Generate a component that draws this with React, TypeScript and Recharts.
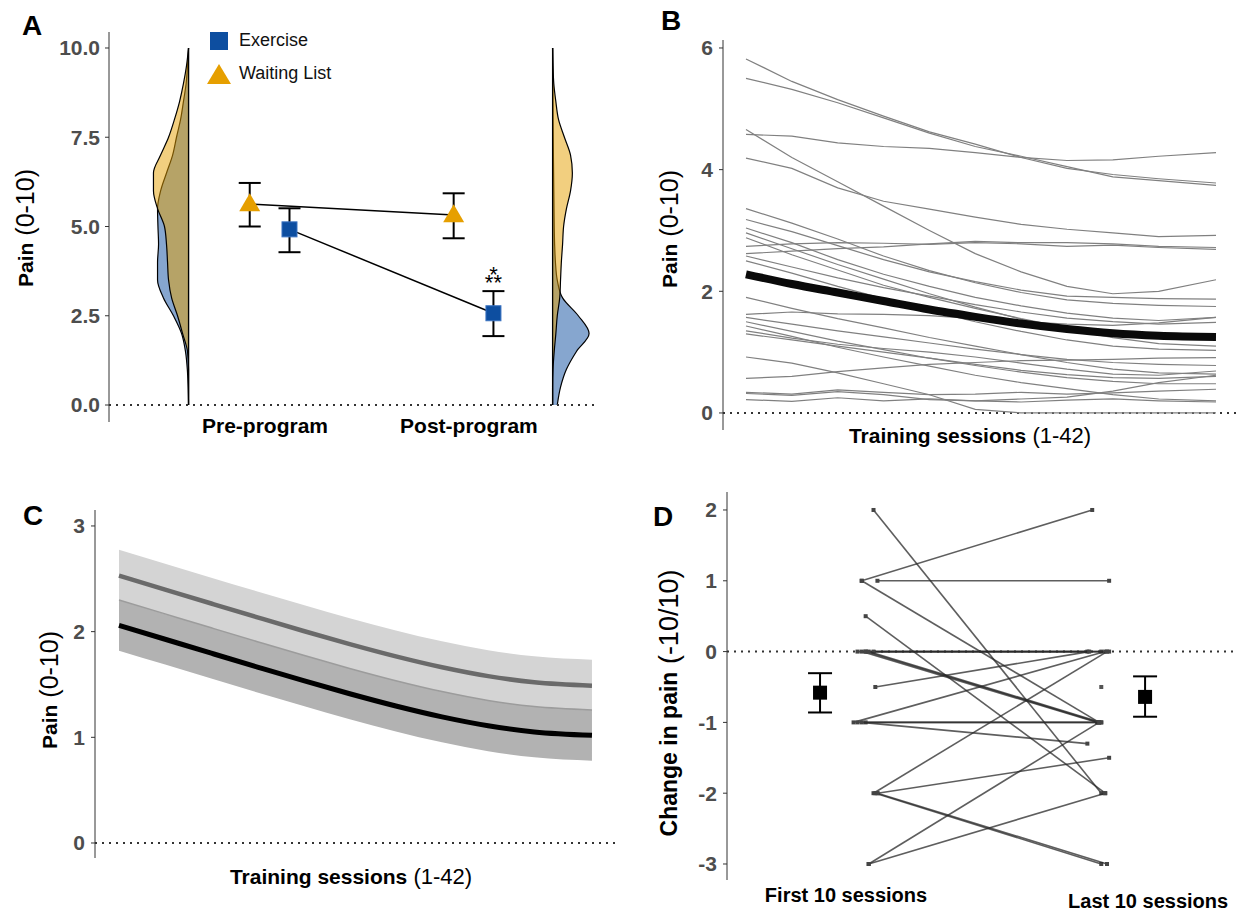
import React from 'react';
import {
  ComposedChart, Area, Line, Scatter, XAxis, YAxis, ReferenceLine, ReferenceDot, ErrorBar, Legend,
} from 'recharts';

const FONT = '"Liberation Sans", Arial, Helvetica, sans-serif';
const AXIS = '#333333';
const TICK_GREY = '#4d4d4d';
const BLUE = '#0d4ea0';
const ORANGE = '#e69f00';

// ---------- Panel A: group means (pre / post) ----------
const A_GROUPS = ['Pre-program', 'Post-program'];
const A_EX_MEAN = [4.92, 2.57];
const A_EX_ERR = [[0.64, 0.59], [0.64, 0.62]];
const A_WL_MEAN = [5.63, 5.32];
const A_WL_ERR = [[0.63, 0.59], [0.65, 0.61]];

// half-violin densities (width in x units) read at these pain levels
const VIOLIN_Y = [0, 0.5, 1, 1.5, 2, 2.5, 3, 3.5, 4, 4.5, 5, 5.5, 6, 6.5, 7, 7.5, 8, 8.5, 9, 9.5, 10];
const EX_PRE_DENS = [0, 0.002, 0.006, 0.015, 0.034, 0.074, 0.123, 0.152, 0.152, 0.147, 0.15, 0.152, 0.137, 0.108, 0.078, 0.059, 0.039, 0.025, 0.012, 0.005, 0];
const WL_PRE_DENS = [0, 0, 0, 0.005, 0.029, 0.054, 0.083, 0.098, 0.103, 0.108, 0.118, 0.152, 0.172, 0.172, 0.137, 0.098, 0.069, 0.044, 0.025, 0.01, 0];
const EX_POST_DENS = [0.023, 0.039, 0.068, 0.117, 0.179, 0.126, 0.049, 0.023, 0.014, 0.01, 0.008, 0.007, 0.006, 0.005, 0.004, 0.003, 0.002, 0.0015, 0.001, 0.0005, 0];
const WL_POST_DENS = [0, 0, 0.002, 0.008, 0.016, 0.023, 0.035, 0.039, 0.043, 0.049, 0.054, 0.068, 0.088, 0.097, 0.088, 0.058, 0.029, 0.016, 0.006, 0.002, 0];

// ---------- Panel B: individual trajectories + fitted mean ----------
const SESSIONS = [1, 5, 9, 13, 17, 21, 25, 29, 33, 37, 42];
const B_MEAN = [2.28, 2.12, 1.98, 1.84, 1.7, 1.58, 1.47, 1.38, 1.31, 1.27, 1.25];
const P01 = [5.82, 5.45, 5.15, 4.88, 4.62, 4.42, 4.2, 4.02, 3.92, 3.85, 3.78];
const P02 = [5.5, 5.32, 5.1, 4.85, 4.6, 4.38, 4.22, 4.05, 3.88, 3.82, 3.74];
const P03 = [4.58, 4.55, 4.44, 4.38, 4.35, 4.28, 4.2, 4.15, 4.16, 4.22, 4.28];
const P04 = [4.66, 4.2, 3.8, 3.4, 3.0, 2.62, 2.32, 2.08, 1.96, 2.0, 2.19];
const P05 = [4.19, 4.02, 3.7, 3.48, 3.35, 3.22, 3.1, 3.02, 2.96, 2.9, 2.92];
const P06 = [3.36, 3.12, 2.86, 2.58, 2.34, 2.14, 1.98, 1.86, 1.8, 1.77, 1.75];
const P07 = [3.18, 2.98, 2.75, 2.52, 2.32, 2.16, 2.02, 1.92, 1.9, 1.88, 1.87];
const P08 = [3.04, 2.8, 2.52, 2.28, 2.08, 1.9, 1.76, 1.64, 1.56, 1.52, 1.57];
const P09 = [2.96, 2.7, 2.44, 2.2, 1.96, 1.74, 1.54, 1.38, 1.24, 1.14, 1.1];
const P10 = [2.74, 2.78, 2.8, 2.79, 2.77, 2.8, 2.78, 2.74, 2.76, 2.72, 2.69];
const P11 = [2.62, 2.66, 2.7, 2.73, 2.78, 2.82, 2.8, 2.8, 2.78, 2.74, 2.72];
const P12 = [2.58, 2.4, 2.22, 2.06, 1.92, 1.78, 1.66, 1.56, 1.5, 1.46, 1.49];
const P13 = [2.5, 2.3, 2.08, 1.88, 1.68, 1.5, 1.34, 1.2, 1.1, 1.05, 1.03];
const P14 = [1.9, 1.72, 1.55, 1.4, 1.24, 1.1, 0.96, 0.83, 0.72, 0.66, 0.64];
const P15 = [1.62, 1.66, 1.63, 1.62, 1.6, 1.55, 1.5, 1.46, 1.44, 1.48, 1.57];
const P16 = [1.57, 1.46, 1.35, 1.25, 1.15, 1.05, 0.96, 0.88, 0.83, 0.8, 0.78];
const P17 = [1.5, 1.34, 1.18, 1.04, 0.9, 0.78, 0.67, 0.58, 0.52, 0.48, 0.48];
const P18 = [1.43, 1.26, 1.08, 0.92, 0.77, 0.62, 0.5, 0.4, 0.3, 0.23, 0.2];
const P19 = [1.35, 1.23, 1.13, 1.06, 1.0, 0.92, 0.82, 0.72, 0.64, 0.62, 0.69];
const P20 = [1.3, 1.2, 1.1, 1.0, 0.9, 0.8, 0.7, 0.63, 0.58, 0.57, 0.6];
const P21 = [0.92, 0.82, 0.66, 0.48, 0.3, 0.06, 0, 0, 0, 0, 0];
const P22 = [0.57, 0.6, 0.68, 0.74, 0.8, 0.83, 0.86, 0.87, 0.88, 0.9, 0.91];
const P23 = [0.34, 0.31, 0.38, 0.34, 0.3, 0.31, 0.34, 0.31, 0.33, 0.36, 0.39];
const P24 = [0.32, 0.29, 0.35, 0.3, 0.22, 0.2, 0.23, 0.26, 0.36, 0.5, 0.62];
const P25 = [0.22, 0.19, 0.25, 0.2, 0.23, 0.2, 0.18, 0.21, 0.23, 0.2, 0.18];
const P26 = [2.88, 2.6, 2.35, 2.1, 1.9, 1.72, 1.55, 1.4, 1.3, 1.25, 1.2];
const B_PATIENTS = [P01, P02, P03, P04, P05, P06, P07, P08, P09, P10, P11, P12, P13,
  P14, P15, P16, P17, P18, P19, P20, P21, P22, P23, P24, P25, P26];

// ---------- Panel C: two fitted curves with CI ----------
const C_GRAY_MEAN = [2.53, 2.398, 2.266, 2.135, 2.006, 1.882, 1.766, 1.663, 1.579, 1.521, 1.489];
const C_GRAY_HI = [2.775, 2.643, 2.511, 2.38, 2.251, 2.127, 2.011, 1.908, 1.824, 1.766, 1.734];
const C_GRAY_LO = [2.3, 2.168, 2.036, 1.905, 1.776, 1.652, 1.536, 1.433, 1.349, 1.291, 1.259];
const C_BLACK_MEAN = [2.06, 1.928, 1.796, 1.665, 1.536, 1.412, 1.296, 1.193, 1.109, 1.051, 1.019];
const C_BLACK_HI = [2.3, 2.168, 2.036, 1.905, 1.776, 1.652, 1.536, 1.433, 1.349, 1.291, 1.259];
const C_BLACK_LO = [1.82, 1.688, 1.556, 1.425, 1.296, 1.172, 1.056, 0.953, 0.869, 0.811, 0.779];

// ---------- Panel D: change in pain, first vs last 10 sessions ----------
const D_GROUPS = ['First 10 sessions', 'Last 10 sessions'];
const D_FIRST = [2, 1, 1, 1, 0.5, 0, 0, 0, 0, 0, 0, -0.5, -1, -1, -1, -1, -2, -2, -2, -2, -3, -3];
const D_LAST = [-2, 2, 1, -1, -2, 0, 0, 0, -1, -1, -1, 0, 0, -1, -1, -1.3, 0, -1.5, -3, -3, -1, -2];
const D_FIRST_JITTER = [0.091, 0.052, 0.104, 0.052, 0.065, 0.038, 0.065, 0.091, 0.052, 0.065, 0.075, 0.097, 0.025, 0.038, 0.065, 0.052, 0.091, 0.104, 0.097, 0.104, 0.075, 0.075];
const D_LAST_JITTER = [-0.155, -0.185, -0.129, -0.162, -0.142, -0.201, -0.155, -0.129, -0.168, -0.162, -0.155, -0.195, -0.142, -0.168, -0.155, -0.201, -0.136, -0.129, -0.155, -0.136, -0.162, -0.142];
const D_LONE_LAST = -0.5;
const D_MEAN = [-0.58, -0.64];
const D_ERR = [[0.28, 0.275], [0.28, 0.29]];

// ---------- layout constants ----------
const A_X_DOMAIN = [0.235, 2.618];
const A_Y_DOMAIN = [-0.476, 10.448];
const WL_DODGE = -0.075;
const EX_DODGE = 0.12;
const PRE_EDGE = 0.625;
const POST_EDGE = 2.41;
const B_X_DOMAIN = [-1.006, 43.745];
const B_Y_DOMAIN = [-0.28, 6.131];
const C_X_DOMAIN = [-1.08, 44.43];
const C_Y_DOMAIN = [-0.142, 3.151];
const D_X_DOMAIN = [0.606, 2.291];
const D_Y_DOMAIN = [-3.226, 2.254];
const D_MEAN_DODGE = [-0.086, -0.01];

const tickStyle = { fill: TICK_GREY, fontSize: 21, fontWeight: 'bold', fontFamily: FONT };

const yLabel = (bold: string, rest: string, cx: number, cy: number, bSize = 21, rSize = 25) => () => (
  <text x={cx} y={cy} transform={`rotate(-90 ${cx} ${cy})`} textAnchor="middle"
    dominantBaseline="central" fill="#000" fontFamily={FONT}>
    <tspan fontWeight="bold" fontSize={bSize}>{bold}</tspan>
    <tspan fontSize={rSize}>{' ' + rest}</tspan>
  </text>
);

const xLabel = (bold: string, rest: string, cx: number, baseline: number) => () => (
  <text x={cx} y={baseline} textAnchor="middle" fill="#000" fontFamily={FONT}>
    <tspan fontWeight="bold" fontSize={21}>{bold}</tspan>
    <tspan fontSize={22}>{' ' + rest}</tspan>
  </text>
);

const square = (size: number, fill: string, stroke?: string) => (p: any) => (
  <rect x={p.cx - size / 2} y={p.cy - size / 2} width={size} height={size} fill={fill} stroke={stroke || 'none'} />
);
const triangle = (w: number, h: number, fill: string) => (p: any) => (
  <polygon points={`${p.cx},${p.cy - h * 0.6} ${p.cx - w / 2},${p.cy + h * 0.4} ${p.cx + w / 2},${p.cy + h * 0.4}`} fill={fill} />
);

const legendA = (props: any) => (
  <div style={{ fontFamily: FONT }}>
    {(props.payload || []).map((e: any) => (
      <div key={e.value} style={{ display: 'flex', alignItems: 'center', height: 33 }}>
        <svg width={28} height={24}>
          {e.type === 'triangle'
            ? <polygon points="14,2 2,22 26,22" fill={ORANGE} />
            : <rect x={5} y={3} width={18} height={18} fill={BLUE} />}
        </svg>
        <span style={{ fontSize: 18, marginLeft: 6, color: '#111' }}>{e.value}</span>
      </div>
    ))}
  </div>
);

const stars = (p: any) => {
  const vb = p.viewBox || {};
  const cx = vb.x + (vb.width || 0) / 2;
  const cy = vb.y + (vb.height || 0) / 2;
  return (
    <text x={cx} y={cy - 9} fontFamily={FONT} fontSize={22} fill="#000" textAnchor="middle">
      <tspan x={cx}>*</tspan>
      <tspan x={cx} dy={8}>**</tspan>
    </text>
  );
};

const PanelLetter = ({ ch, left, top }: { ch: string; left: number; top: number }) => (
  <div style={{ position: 'absolute', left, top, fontSize: 28, fontWeight: 'bold', lineHeight: 1, fontFamily: FONT }}>{ch}</div>
);

const dTick = (p: any) => (
  <text x={p.x} y={p.y} dy={p.index === 0 ? 22 : 28} textAnchor="middle" fontSize={20}
    fontWeight="bold" fill="#000" fontFamily={FONT}>
    {D_GROUPS[p.payload.value - 1]}
  </text>
);

const aTick = (p: any) => (
  <text x={p.x} y={p.y} dy={11} textAnchor="middle" fontSize={21}
    fontWeight="bold" fill="#000" fontFamily={FONT}>
    {A_GROUPS[p.payload.value - 1]}
  </text>
);

export default function App() {
  const violinRows = VIOLIN_Y.map((y, i) => ({
    y, exPre: EX_PRE_DENS[i], wlPre: WL_PRE_DENS[i], exPost: EX_POST_DENS[i], wlPost: WL_POST_DENS[i],
  }));
  const exRows = A_GROUPS.map((_, i) => ({ x: i + 1 + EX_DODGE, y: A_EX_MEAN[i], err: A_EX_ERR[i] }));
  const wlRows = A_GROUPS.map((_, i) => ({ x: i + 1 + WL_DODGE, y: A_WL_MEAN[i], err: A_WL_ERR[i] }));

  const bRows = SESSIONS.map((s, i) => {
    const row: any = { s, mean: B_MEAN[i] };
    B_PATIENTS.forEach((p, j) => { row['p' + j] = p[i]; });
    return row;
  });

  const cRows = SESSIONS.map((s, i) => ({
    s, grayMean: C_GRAY_MEAN[i], grayBand: [C_GRAY_LO[i], C_GRAY_HI[i]],
    blackMean: C_BLACK_MEAN[i], blackBand: [C_BLACK_LO[i], C_BLACK_HI[i]], blackHi: C_BLACK_HI[i],
  }));

  const dPairs = D_FIRST.map((v, i) => [
    { x: 1 + D_FIRST_JITTER[i], y: v },
    { x: 2 + D_LAST_JITTER[i], y: D_LAST[i] },
  ]);
  const dMeans = D_GROUPS.map((_, i) => ({ x: i + 1 + D_MEAN_DODGE[i], y: D_MEAN[i], err: D_ERR[i] }));

  return (
    <div style={{ position: 'absolute', left: 0, top: 0, width: 1236, height: 911, background: '#fff', fontFamily: FONT, overflow: 'hidden' }}>
      {/* Panel A: violins */}
      <div style={{ position: 'absolute', left: 0, top: 0 }}>
        <ComposedChart layout="vertical" width={620} height={455} data={violinRows}
          margin={{ top: 32, right: 25, bottom: 33, left: 109 }}>
          <XAxis type="number" domain={A_X_DOMAIN} hide allowDataOverflow />
          <YAxis type="number" dataKey="y" domain={A_Y_DOMAIN} hide reversed allowDataOverflow />
          <Area type="monotone" dataKey={(r: any) => [PRE_EDGE, PRE_EDGE - r.exPre]} fill={BLUE} fillOpacity={0.5}
            stroke="#000" strokeWidth={1.2} isAnimationActive={false} />
          <Area type="monotone" dataKey={(r: any) => [PRE_EDGE, PRE_EDGE - r.wlPre]} fill={ORANGE} fillOpacity={0.5}
            stroke="#000" strokeWidth={1.2} isAnimationActive={false} />
          <Area type="monotone" dataKey={(r: any) => [POST_EDGE, POST_EDGE + r.exPost]} fill={BLUE} fillOpacity={0.5}
            stroke="#000" strokeWidth={1.2} isAnimationActive={false} />
          <Area type="monotone" dataKey={(r: any) => [POST_EDGE, POST_EDGE + r.wlPost]} fill={ORANGE} fillOpacity={0.5}
            stroke="#000" strokeWidth={1.2} isAnimationActive={false} />
        </ComposedChart>
      </div>
      {/* Panel A: means */}
      <div style={{ position: 'absolute', left: 0, top: 0 }}>
        <ComposedChart width={620} height={455} margin={{ top: 32, right: 25, bottom: 3, left: 0 }}>
          <XAxis type="number" dataKey="x" domain={A_X_DOMAIN} ticks={[1, 2]} axisLine={false} tickLine={false}
            tickSize={0} tickMargin={0} height={30} tick={aTick} allowDataOverflow />
          <YAxis type="number" dataKey="y" domain={A_Y_DOMAIN} ticks={[0, 2.5, 5, 7.5, 10]} width={109}
            tickFormatter={(v: number) => v.toFixed(1)} axisLine={{ stroke: AXIS }} tickLine={{ stroke: AXIS }}
            tickSize={4} tickMargin={5} tick={tickStyle} allowDataOverflow
            label={yLabel('Pain', '(0-10)', 25, 228)} />
          <ReferenceLine y={0} stroke={AXIS} strokeDasharray="2 5" strokeWidth={2} />
          <Scatter name="Exercise" data={exRows} legendType="square" fill={BLUE}
            line={{ stroke: '#000', strokeWidth: 1.5 }} shape={square(15, BLUE, '#3a72c0')} isAnimationActive={false}>
            <ErrorBar dataKey="err" direction="y" width={11} stroke="#000" strokeWidth={2} />
          </Scatter>
          <Scatter name="Waiting List" data={wlRows} legendType="triangle" fill={ORANGE}
            line={{ stroke: '#000', strokeWidth: 1.5 }} shape={triangle(21, 18, ORANGE)} isAnimationActive={false}>
            <ErrorBar dataKey="err" direction="y" width={11} stroke="#000" strokeWidth={2} />
          </Scatter>
          <ReferenceDot x={2 + EX_DODGE} y={A_EX_MEAN[1] + A_EX_ERR[1][1]} r={1} fill="none" stroke="none" label={stars} />
          <Legend layout="vertical" align="center" verticalAlign="middle" content={legendA}
            wrapperStyle={{ left: 205, top: 24, width: 170 }} />
        </ComposedChart>
      </div>

      {/* Panel B */}
      <div style={{ position: 'absolute', left: 620, top: 0 }}>
        <ComposedChart width={616} height={455} data={bRows} margin={{ top: 40, right: 0, bottom: 0, left: 0 }}>
          <XAxis type="number" dataKey="s" domain={B_X_DOMAIN} tick={false} tickLine={false} axisLine={false}
            height={25} allowDataOverflow label={xLabel('Training sessions', '(1-42)', 350, 443)} />
          <YAxis type="number" domain={B_Y_DOMAIN} ticks={[0, 2, 4, 6]} width={103} axisLine={{ stroke: AXIS }}
            tickLine={{ stroke: AXIS }} tickSize={4} tickMargin={6} tick={tickStyle} allowDataOverflow
            label={yLabel('Pain', '(0-10)', 49, 229)} />
          <ReferenceLine y={0} stroke={AXIS} strokeDasharray="2 5" strokeWidth={2} />
          {B_PATIENTS.map((_, j) => (
            <Line key={j} type="linear" dataKey={'p' + j} stroke="#808080" strokeWidth={1.2} dot={false}
              isAnimationActive={false} />
          ))}
          <Line type="monotone" dataKey="mean" stroke="#0a0a0a" strokeWidth={8} dot={false} isAnimationActive={false} />
        </ComposedChart>
      </div>

      {/* Panel C */}
      <div style={{ position: 'absolute', left: 0, top: 460 }}>
        <ComposedChart width={628} height={451} data={cRows} margin={{ top: 50, right: 8, bottom: 23, left: 0 }}>
          <XAxis type="number" dataKey="s" domain={C_X_DOMAIN} tick={false} tickLine={false} axisLine={false}
            height={30} allowDataOverflow label={xLabel('Training sessions', '(1-42)', 351, 424)} />
          <YAxis type="number" domain={C_Y_DOMAIN} ticks={[0, 1, 2, 3]} width={95} axisLine={{ stroke: AXIS }}
            tickLine={{ stroke: AXIS }} tickSize={4} tickMargin={6} tick={tickStyle} allowDataOverflow
            label={yLabel('Pain', '(0-10)', 49, 230)} />
          <Area type="monotone" dataKey="grayBand" fill="#d4d4d4" fillOpacity={1} stroke="none" isAnimationActive={false} />
          <Area type="monotone" dataKey="blackBand" fill="#b2b2b2" fillOpacity={1} stroke="none" isAnimationActive={false} />
          <Line type="monotone" dataKey="blackHi" stroke="#9c9c9c" strokeWidth={1.5} dot={false} isAnimationActive={false} />
          <Line type="monotone" dataKey="grayMean" stroke="#6a6a6a" strokeWidth={4.5} dot={false} isAnimationActive={false} />
          <Line type="monotone" dataKey="blackMean" stroke="#000" strokeWidth={5} dot={false} isAnimationActive={false} />
          <ReferenceLine y={0} stroke={AXIS} strokeDasharray="2 5" strokeWidth={2} />
        </ComposedChart>
      </div>

      {/* Panel D */}
      <div style={{ position: 'absolute', left: 620, top: 460 }}>
        <ComposedChart width={616} height={451} margin={{ top: 32, right: 0, bottom: 0, left: 0 }}>
          <XAxis type="number" dataKey="x" domain={D_X_DOMAIN} ticks={[1, 2]} axisLine={false} tickLine={false}
            tickSize={0} tickMargin={0} height={31} tick={dTick} allowDataOverflow />
          <YAxis type="number" dataKey="y" domain={D_Y_DOMAIN} ticks={[-3, -2, -1, 0, 1, 2]} width={107}
            axisLine={{ stroke: AXIS }} tickLine={{ stroke: AXIS }} tickSize={4} tickMargin={6} tick={tickStyle}
            allowDataOverflow label={yLabel('Change in pain', '(-10/10)', 49, 243, 23, 27)} />
          <ReferenceLine y={0} stroke={AXIS} strokeDasharray="2 5" strokeWidth={2} />
          {dPairs.map((pair, i) => (
            <Scatter key={i} data={pair} line={{ stroke: 'rgba(40,40,40,0.75)', strokeWidth: 1.6 }}
              shape={square(4, '#444')} isAnimationActive={false} />
          ))}
          <Scatter data={[{ x: 2 - 0.155, y: D_LONE_LAST }]} shape={square(4, '#555')} isAnimationActive={false} />
          <Scatter data={dMeans} shape={square(14, '#000')} isAnimationActive={false}>
            <ErrorBar dataKey="err" direction="y" width={12} stroke="#000" strokeWidth={2} />
          </Scatter>
        </ComposedChart>
      </div>

      <PanelLetter ch="A" left={22} top={12} />
      <PanelLetter ch="B" left={661} top={7} />
      <PanelLetter ch="C" left={23} top={502} />
      <PanelLetter ch="D" left={653} top={503} />
    </div>
  );
}
